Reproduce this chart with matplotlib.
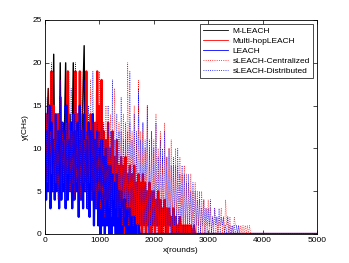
import numpy as np
import matplotlib
matplotlib.use("Agg")
import matplotlib.pyplot as plt

plt.rcParams['font.family'] = ['Liberation Sans', 'DejaVu Sans']

STEP = 20          # rounds between read samples
END_ROUND = 5000   # x-axis end; every network is dead (0 CHs) after its last sample

series_names = ["M-LEACH", "Multi-hopLEACH", "LEACH",
                "sLEACH-Centralized", "sLEACH-Distributed"]

m_leach = [10, 5, 13, 17, 6, 12, 17, 5, 21, 6,
           11, 5, 14, 6, 20, 5, 12, 7, 13, 20,
           6, 12, 5, 14, 7, 11, 20, 5, 13, 6,
           12, 5, 14, 6, 11, 17, 22, 5, 12, 6,
           13, 5, 11, 6, 12, 4, 10, 5, 11, 4,
           9, 4, 8, 3, 6, 4, 5, 3, 5, 4,
           3, 2, 4, 2, 3, 2, 3, 1, 2, 1,
           2, 1, 2, 1, 2, 0, 1, 1, 0, 1,
           1, 0, 1, 0, 1, 0, 0, 0]

multihop_leach = [7, 14, 5, 12, 6, 13, 19, 5, 15, 6,
                  12, 5, 14, 7, 11, 5, 13, 6, 12, 5,
                  14, 19, 6, 12, 5, 13, 7, 11, 19, 5,
                  14, 6, 19, 5, 12, 7, 13, 5, 19, 6,
                  12, 4, 14, 6, 11, 5, 13, 4, 19, 5,
                  15, 3, 18, 2, 12, 4, 11, 2, 13, 3,
                  10, 1, 12, 2, 9, 1, 11, 0, 8, 2,
                  9, 1, 8, 0, 9, 1, 7, 0, 8, 1,
                  7, 0, 8, 1, 6, 0, 7, 1, 6, 0,
                  7, 1, 6, 0, 5, 1, 6, 0, 5, 1,
                  5, 0, 4, 1, 5, 0, 4, 0, 3, 1,
                  4, 0, 3, 0, 3, 1, 2, 0, 3, 0,
                  2, 0, 1, 0, 2, 0, 1, 0, 1, 0,
                  1, 0, 1, 0, 1, 0, 0, 1, 0, 0]

leach = [14, 4, 12, 5, 15, 3, 13, 5, 11, 4,
         14, 5, 12, 3, 16, 4, 13, 5, 12, 3,
         15, 4, 11, 5, 13, 3, 14, 4, 12, 5,
         13, 2, 15, 4, 12, 3, 14, 5, 11, 3,
         13, 2, 12, 4, 14, 1, 11, 3, 12, 1,
         10, 0, 11, 1, 9, 0, 10, 1, 8, 0,
         8, 0, 7, 1, 6, 0, 7, 0, 5, 0,
         5, 0, 4, 1, 4, 0, 3, 0, 3, 0,
         2, 0, 2, 0, 1, 0, 1, 0]

sleach_c = [5, 13, 6, 17, 4, 12, 7, 19, 5, 11,
            6, 14, 4, 12, 18, 5, 13, 6, 11, 4,
            13, 7, 19, 5, 12, 6, 14, 4, 17, 6,
            12, 5, 13, 4, 19, 6, 11, 5, 14, 3,
            12, 6, 18, 4, 13, 5, 11, 3, 14, 5,
            19, 3, 12, 4, 13, 2, 15, 4, 11, 3,
            14, 2, 12, 4, 17, 3, 11, 2, 13, 3,
            12, 1, 14, 2, 11, 3, 20, 1, 13, 2,
            12, 1, 15, 2, 11, 0, 18, 1, 12, 2,
            13, 0, 11, 1, 15, 0, 10, 1, 12, 0,
            11, 1, 14, 0, 10, 0, 12, 1, 9, 0,
            13, 0, 9, 1, 10, 0, 11, 0, 8, 1,
            10, 0, 8, 0, 9, 1, 7, 0, 8, 0,
            7, 0, 6, 1, 7, 0, 5, 0, 6, 0,
            5, 1, 4, 0, 5, 0, 4, 0, 3, 1,
            4, 0, 3, 0, 2, 1, 3, 0, 2, 0,
            2, 1, 3, 0, 2, 0, 4, 1, 2, 0,
            2, 0, 1, 0, 2, 1, 1, 0, 1, 0,
            1, 0, 1, 0, 1, 0, 1, 0, 1, 0]

sleach_d = [12, 5, 16, 6, 13, 4, 20, 6, 11, 5,
            14, 7, 12, 4, 18, 5, 13, 6, 15, 5,
            11, 4, 13, 6, 17, 5, 12, 4, 20, 6,
            13, 5, 11, 7, 14, 4, 18, 6, 12, 5,
            15, 3, 12, 5, 19, 4, 11, 6, 13, 3,
            12, 4, 17, 2, 13, 3, 11, 4, 15, 2,
            12, 3, 18, 1, 11, 3, 14, 2, 12, 1,
            16, 3, 11, 2, 13, 0, 12, 2, 19, 1,
            11, 2, 14, 0, 12, 1, 17, 0, 11, 1,
            13, 0, 10, 1, 15, 0, 11, 1, 12, 0,
            10, 1, 13, 0, 9, 1, 11, 0, 10, 0,
            12, 0, 9, 1, 10, 0, 8, 0, 9, 1,
            8, 0, 10, 0, 7, 1, 8, 0, 7, 0,
            6, 0, 7, 1, 5, 0, 6, 0, 5, 1,
            4, 0, 5, 0, 3, 1, 4, 0, 3, 0,
            3, 1, 4, 0, 2, 0, 3, 1, 2, 0,
            3, 0, 2, 1, 2, 0, 1, 0, 2, 0,
            1, 0, 1, 0, 1, 0, 1, 0, 1, 0]

series_values = [m_leach, multihop_leach, leach, sleach_c, sleach_d]
colors = ['k', 'r', 'b', 'r', 'b']
styles = ['-', '-', '-', ':', ':']
widths = [1.0, 1.6, 1.6, 0.5, 0.5]

x_ticks = [0, 1000, 2000, 3000, 4000, 5000]
y_ticks = [0, 5, 10, 15, 20, 25]

fig = plt.figure(figsize=(3.49, 2.63), dpi=100)
ax = fig.add_axes([45/349, 1 - 234/263, 272/349, 214/263])

for name, vals, c, ls, lw in zip(series_names, series_values, colors, styles, widths):
    x = list(np.arange(len(vals)) * STEP) + [END_ROUND]
    y = list(vals) + [0]
    ax.plot(x, y, color=c, linestyle=ls, linewidth=lw, label=name)

ax.set_xlim(0, 5000)
ax.set_ylim(0, 25)
ax.set_xticks(x_ticks)
ax.set_yticks(y_ticks)
ax.tick_params(direction='in', length=3, width=0.5, labelsize=6,
               top=True, right=True, pad=2.5)
for s in ax.spines.values():
    s.set_linewidth(0.6)
ax.set_xlabel("x(rounds)", fontsize=6, labelpad=1.5)
ax.set_ylabel("y(CHs)", fontsize=6, labelpad=2)

leg = ax.legend(loc='upper right', fontsize=6, frameon=True, fancybox=False,
                edgecolor='k', framealpha=1, borderaxespad=0.5,
                handlelength=2.9, labelspacing=0.27, borderpad=0.35,
                handletextpad=0.6)
leg.get_frame().set_linewidth(0.5)
for line in leg.get_lines():
    line.set_linewidth(0.6)

fig.savefig("out.png", dpi=100)
